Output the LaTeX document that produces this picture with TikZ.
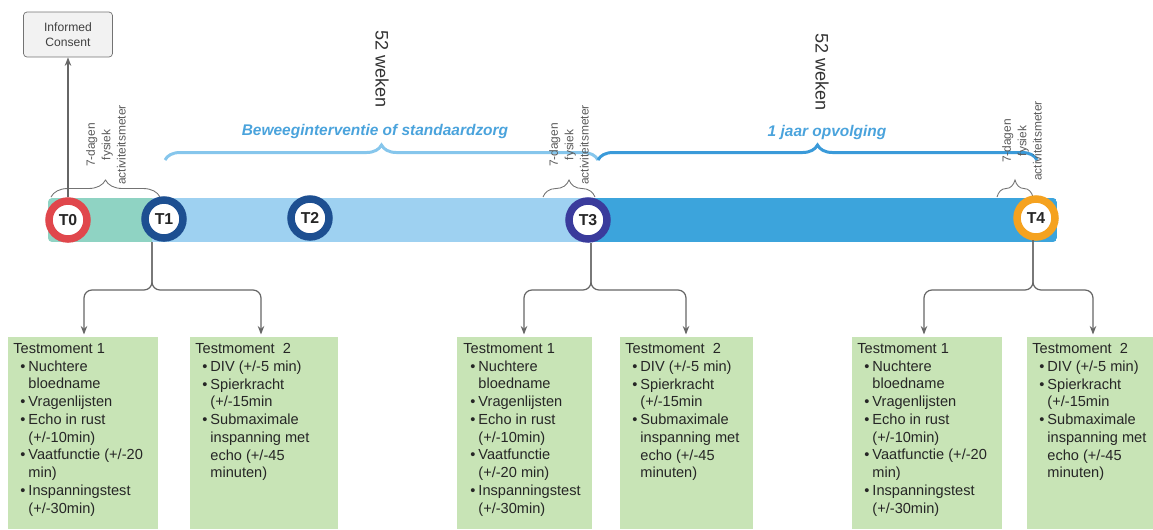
\documentclass[tikz,border=0pt]{standalone}
\usepackage{fontspec}
\setmainfont{Liberation Sans}
\usetikzlibrary{arrows.meta,decorations.pathreplacing}
\definecolor{barteal}{HTML}{8FD3C3}
\definecolor{barlight}{HTML}{9ED1F1}
\definecolor{bardark}{HTML}{3CA4DC}
\definecolor{cred}{HTML}{E0474C}
\definecolor{cnavy}{HTML}{1D4F91}
\definecolor{cpurple}{HTML}{3A3B9C}
\definecolor{corange}{HTML}{F5A21F}
\definecolor{boxgreen}{HTML}{C8E4B6}
\definecolor{bracelight}{HTML}{86C6EC}
\definecolor{bracedark}{HTML}{3A9AD9}
\definecolor{labelblue}{HTML}{4AA3DC}
\definecolor{txt}{HTML}{262626}
\newcommand\bu{\hspace*{4pt}\makebox[4.6pt][l]{•}}
\newcommand\ct{\hspace*{8.6pt}}
\newcommand\TMa{Testmoment 1\\
\bu Nuchtere\\ \ct bloedname\\
\bu Vragenlijsten\\
\bu Echo in rust\\ \ct (+/-10min)\\
\bu Vaatfunctie (+/-20\\ \ct min)\\
\bu Inspanningstest\\ \ct (+/-30min)}
\newcommand\TMc{Testmoment 1\\
\bu Nuchtere\\ \ct bloedname\\
\bu Vragenlijsten\\
\bu Echo in rust\\ \ct (+/-10min)\\
\bu Vaatfunctie\\ \ct (+/-20 min)\\
\bu Inspanningstest\\ \ct (+/-30min)}
\newcommand\TMb{Testmoment\ \ 2\\
\bu DIV (+/-5 min)\\
\bu Spierkracht\\ \ct (+/-15min\\
\bu Submaximale\\ \ct inspanning met\\ \ct echo (+/-45\\ \ct minuten)}
\begin{document}
\begin{tikzpicture}[x=0.02cm,y=-0.02cm,
 tcirc/.style={circle, fill=white, line width=0.15cm, minimum size=0.76cm, inner sep=0pt, font=\fontsize{9}{11}\selectfont\bfseries, text=txt},
 conn/.style={draw=black!60, line width=0.7pt, rounded corners=0.16cm, shorten >=0.05cm, -{Stealth[length=0.17cm,width=0.13cm]}},
 tbox/.style={fill=boxgreen, draw=none, anchor=north west, minimum height=3.84cm, inner sep=0pt},
 ttext/.style={anchor=north west, align=left, inner sep=0pt, font=\fontsize{8.3}{10.1}\selectfont, text=txt},
 sbrace/.style={draw=black!55, line width=0.5pt, decorate, decoration={brace, amplitude=0.34cm}},
 bbrace/.style={line width=1.7pt, decorate, decoration={brace, amplitude=0.3cm}},
 slabel/.style={rotate=90, align=center, font=\fontsize{6.8}{8.8}\selectfont, text=black!65, inner sep=0pt},
 wlabel/.style={rotate=-90, font=\fontsize{10.3}{12}\selectfont, text=black!80, inner sep=0pt},
 blabel/.style={font=\fontsize{8.8}{10}\selectfont\bfseries\itshape, text=labelblue, inner sep=0pt},
]
\useasboundingbox (0,0) rectangle (1153,529);

% timeline bar
\begin{scope}
\clip[rounded corners=0.08cm] (48,198) rectangle (1057,242);
\fill[barteal] (48,198) rectangle (152,242);
\fill[barlight] (152,198) rectangle (590,242);
\fill[bardark] (590,198) rectangle (1057,242);
\end{scope}

% big braces
\draw[bbrace, draw=bracelight] (165,160) -- (598,160);
\draw[bbrace, draw=bracedark] (598,160) -- (1037,160);
\node[blabel] (lab1) at (375,131) {Beweeginterventie of standaardzorg};
\node[blabel] (lab2) at (827,132) {1 jaar opvolging};
\node[wlabel] (w1) at (382,69) {52 weken};
\node[wlabel] (w2) at (822,72) {52 weken};

% small braces
\draw[sbrace] (51,197) -- (160,197);
\draw[sbrace] (543,197) -- (595,197);
\draw[sbrace] (997,197) -- (1033,197);
\node[slabel] (s7a) at (106,145) {7-dagen\\fysiek\\activiteitsmeter};
\node[slabel] (s7b) at (569,145) {7-dagen\\fysiek\\activiteitsmeter};
\node[slabel] (s7c) at (1022,141) {7-dagen\\fysiek\\activiteitsmeter};

% informed consent
\node[draw=black!55, fill=black!5, rounded corners=0.07cm, minimum width=1.78cm, minimum height=0.9cm, align=center, inner sep=0pt, font=\fontsize{6.9}{8.5}\selectfont, text=black!75] (ic) at (68,34.5) {Informed\\Consent};

% circles
\node[tcirc, draw=cred] (t0) at (68,220) {T0};
\node[tcirc, draw=cnavy] (t1) at (164,219) {T1};
\node[tcirc, draw=cnavy] (t2) at (310,218) {T2};
\node[tcirc, draw=cpurple] (t3) at (588,220) {T3};
\node[tcirc, draw=corange] (t4) at (1036,218) {T4};

\draw[draw=black!60, line width=0.7pt, -{Stealth[length=0.17cm,width=0.13cm]}] (t0.north) -- (ic.south);

% boxes
\node[tbox, minimum width=3.0cm] (b11) at (8,337) {};
\node[tbox, minimum width=2.96cm] (b12) at (190,337) {};
\node[tbox, minimum width=2.7cm] (b31) at (457,337) {};
\node[tbox, minimum width=2.66cm] (b32) at (620,337) {};
\node[tbox, minimum width=3.0cm] (b41) at (852,337) {};
\node[tbox, minimum width=2.52cm] (b42) at (1027,337) {};

\node[ttext] (x11) at ([xshift=0.1cm,yshift=-0.12cm]b11.north west) {\TMa};
\node[ttext] (x12) at ([xshift=0.1cm,yshift=-0.12cm]b12.north west) {\TMb};
\node[ttext] (x31) at ([xshift=0.12cm,yshift=-0.12cm]b31.north west) {\TMc};
\node[ttext] (x32) at ([xshift=0.1cm,yshift=-0.12cm]b32.north west) {\TMb};
\node[ttext] (x41) at ([xshift=0.1cm,yshift=-0.12cm]b41.north west) {\TMa};
\node[ttext] (x42) at ([xshift=0.1cm,yshift=-0.12cm]b42.north west) {\TMb};

% split connectors
\coordinate (s1) at (152,242);
\coordinate (l1) at (84,290);
\coordinate (r1) at (261,290);
\coordinate (s3) at (591,243);
\coordinate (l3) at (524,290);
\coordinate (r3) at (686,290);
\coordinate (s4) at (1033,240);
\coordinate (l4) at (924,290);
\coordinate (r4) at (1093,290);

\draw[conn] (s1) |- (l1) -- (l1 |- b11.north);
\draw[conn] (s1) |- (r1) -- (r1 |- b12.north);
\draw[conn] (s3) |- (l3) -- (l3 |- b31.north);
\draw[conn] (s3) |- (r3) -- (r3 |- b32.north);
\draw[conn] (s4) |- (l4) -- (l4 |- b41.north);
\draw[conn] (s4) |- (r4) -- (r4 |- b42.north);
\end{tikzpicture}
\end{document}
